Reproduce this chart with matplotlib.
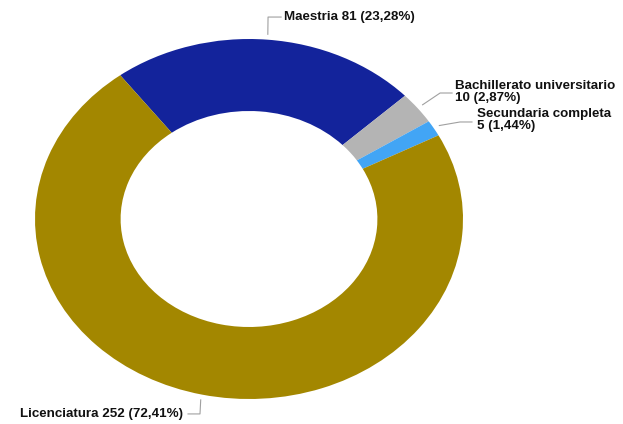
import numpy as np
import matplotlib.pyplot as plt

categorias = ['Maestria', 'Bachillerato universitario', 'Secundaria completa', 'Licenciatura']
cantidades = [81, 10, 5, 252]
porcentajes = ['23,28%', '2,87%', '1,44%', '72,41%']
colores = ['#13239b', '#b4b4b4', '#42a5f5', '#a38700']

etiquetas = [
    f'{categorias[0]} {cantidades[0]} ({porcentajes[0]})',
    f'{categorias[1]}\n{cantidades[1]} ({porcentajes[1]})',
    f'{categorias[2]}\n{cantidades[2]} ({porcentajes[2]})',
    f'{categorias[3]} {cantidades[3]} ({porcentajes[3]})',
]

# (codo x, codo y, fin linea x, texto x, texto y, alineacion)
posiciones = [
    (0.089, 1.122, 0.15, 0.164, 1.122, 'left'),
    (0.893, 0.70, 0.949, 0.963, 0.705, 'left'),
    (0.986, 0.539, 1.042, 1.065, 0.548, 'left'),
    (-0.229, -1.083, -0.285, -0.308, -1.083, 'right'),
]


def main():
    plt.rcParams['font.family'] = ['Liberation Sans', 'DejaVu Sans']
    fig = plt.figure(figsize=(6.23, 4.24), dpi=100)
    ax = fig.add_axes([0, 0, 1, 1])

    wedges, _ = ax.pie(cantidades, colors=colores, startangle=127, counterclock=False,
                       radius=1, wedgeprops=dict(width=0.4, edgecolor='none'))

    for w, etiqueta, (ex, ey, lx, tx, ty, ha) in zip(wedges, etiquetas, posiciones):
        ang = np.deg2rad((w.theta1 + w.theta2) / 2)
        x0, y0 = 1.03 * np.cos(ang), 1.03 * np.sin(ang)
        ax.plot([x0, ex, lx], [y0, ey, ey], color='#a0a0a0', lw=0.8)
        ax.text(tx, ty, etiqueta, ha=ha, va='center', fontsize=9.6, fontweight='bold',
                color='#111111', linespacing=0.98)

    ax.set_aspect('auto')
    ax.set_xlim(-1.1636, 1.7477)
    ax.set_ylim(-1.1389, 1.2167)
    ax.axis('off')
    fig.savefig('out.png', dpi=100, facecolor='white')


if __name__ == '__main__':
    main()
